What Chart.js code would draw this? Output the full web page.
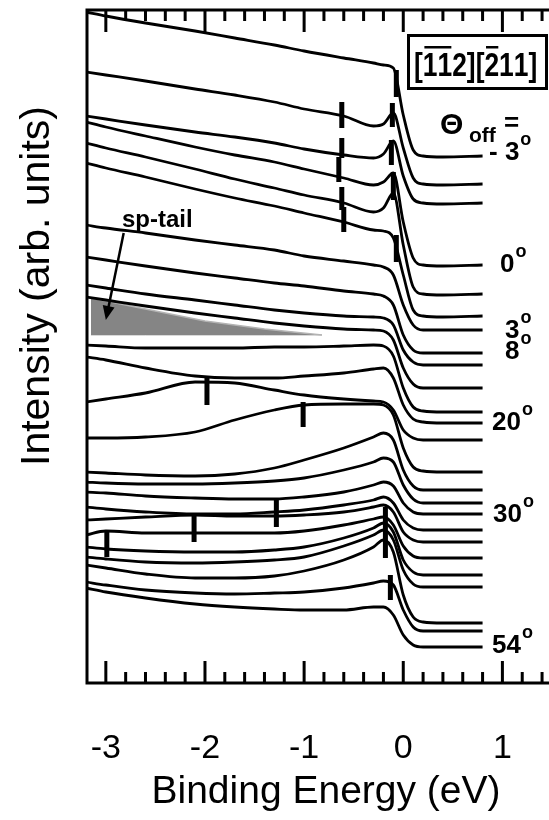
<!DOCTYPE html>
<html>
<head>
<meta charset="utf-8">
<script src="https://cdn.jsdelivr.net/npm/chart.js@4.4.1/dist/chart.umd.min.js"></script>
<style>
  html, body { margin: 0; padding: 0; background: #fff; }
  #chart { display: block; }
</style>
</head>
<body>
<canvas id="chart" width="549" height="820"></canvas>
<script>
'use strict';

// binding energy grid (eV), shared by every spectrum
const energy = [-3.2, -3.0, -2.6, -2.1, -1.7, -1.3, -1.0, -0.6, -0.3, -0.2, -0.1, 0.0, 0.1, 0.2, 0.4, 0.8];

// stacked spectra, top to bottom (intensity incl. offset, arb. units)
const spec01 = [671, 667, 660, 652, 645, 638, 632, 625, 620, 618, 615, 568, 533, 527, 526, 527]; // -3 deg
const spec02 = [611, 608, 602, 594, 588, 581, 574, 567, 557, 559, 570, 535, 505, 499, 498, 499];
const spec03 = [567, 564, 558, 551, 546, 540, 534, 528, 525, 529, 542, 507, 484, 480, 479, 480];
const spec04 = [561, 556, 547, 536, 528, 521, 514, 505, 498, 501, 510, 461, 425, 418, 417, 418]; // 0 deg
const spec05 = [540, 535, 526, 514, 504, 495, 488, 480, 471, 475, 490, 438, 396, 389, 388, 389];
const spec06 = [520, 515, 506, 494, 485, 477, 470, 461, 453, 452, 445, 408, 373, 367, 366, 367];
const spec07 = [458, 455, 450, 443, 438, 433, 427, 422, 418, 416, 408, 378, 358, 353, 353, 353]; // 3 deg
const spec08 = [426, 423, 417, 410, 405, 400, 397, 392, 389, 387, 378, 348, 333, 330, 330, 330];
const spec09 = [398, 395, 389, 383, 378, 373, 370, 367, 366, 365, 358, 333, 321, 318, 318, 318]; // 8 deg
const spec10 = [386, 383, 377, 370, 365, 360, 357, 354, 353, 352, 343, 315, 299, 295, 295, 295];
const spec11 = [338, 337, 335, 335, 335, 336, 336, 337, 338, 337, 327, 295, 276, 272, 271, 271];
const spec12 = [326, 323, 315, 307, 305, 305, 307, 310, 314, 315, 305, 278, 264, 261, 260, 260]; // 20 deg
const spec13 = [281, 284, 290, 301, 300, 293, 288, 284, 282, 281, 273, 253, 245, 243, 243, 243];
const spec14 = [245, 245, 246, 251, 263, 273, 278, 279, 279, 278, 268, 235, 216, 212, 211, 211];
const spec15 = [211, 210, 208, 207, 209, 215, 223, 235, 246, 250, 243, 213, 197, 193, 193, 193];
const spec16 = [201, 200, 199, 199, 200, 202, 205, 213, 221, 225, 221, 198, 184, 180, 180, 180];
const spec17 = [191, 190, 187, 185, 184, 184, 186, 191, 198, 201, 197, 180, 171, 169, 169, 169]; // 30 deg
const spec18 = [176, 174, 171, 169, 169, 171, 173, 178, 183, 186, 180, 163, 155, 153, 153, 153];
const spec19 = [163, 164, 166, 168, 167, 167, 168, 171, 176, 178, 171, 151, 143, 141, 141, 141];
const spec20 = [148, 152, 150, 150, 150, 150, 152, 158, 164, 166, 158, 137, 127, 125, 125, 125];
const spec21 = [136, 134, 132, 131, 131, 133, 136, 145, 155, 160, 151, 123, 111, 108, 108, 108];
const spec22 = [126, 124, 121, 120, 121, 123, 126, 137, 148, 153, 143, 113, 99, 96, 96, 96];
const spec23 = [118, 115, 109, 105, 105, 107, 112, 123, 136, 143, 131, 88, 66, 61, 60, 60];
const spec24 = [101, 98, 93, 90, 89, 90, 91, 95, 100, 102, 98, 73, 56, 52, 52, 52];
const spec25 = [95, 91, 85, 79, 76, 74, 73, 73, 76, 76, 68, 48, 38, 36, 36, 36]; // 54 deg

const spectra = [spec01, spec02, spec03, spec04, spec05, spec06, spec07, spec08, spec09, spec10,
  spec11, spec12, spec13, spec14, spec15, spec16, spec17, spec18, spec19, spec20,
  spec21, spec22, spec23, spec24, spec25];

// peak position markers (short thick bars)
const markEnergy = [-0.62, -0.62, -0.65, -0.62, -0.60, -0.07, -0.11, -0.12, -0.10, -0.07,
  -1.98, -1.01, -1.28, -2.11, -2.99, -0.18, -0.13];
const markTop = [581, 545, 526, 496, 476, 613, 580, 543, 511, 448, 305, 281, 183, 168, 153, 176, 108];
const markBottom = [555, 525, 501, 473, 451, 586, 556, 518, 483, 421, 278, 256, 156, 141, 126, 125, 83];

// shaded sp-tail region
const tailEnergy = [-3.15, -2.6, -2.0, -1.4, -0.82];
const tailTop = [385, 374, 362, 354, 348];
const tailBase = [348, 348, 348, 348, 348];

// x axis
const xTickValues = [-3, -2, -1, 0, 1];
const xMin = -3.19;
const xMax = 1.47;

const FONT = '"Liberation Sans", Arial, Helvetica, sans-serif';

function degLabel(ctx, txt, x, y) {
  ctx.font = 'bold 26px ' + FONT;
  ctx.textAlign = 'left';
  ctx.fillText(txt, x, y);
  const w = ctx.measureText(txt).width;
  ctx.font = 'bold 18px ' + FONT;
  ctx.fillText('o', x + w + 1, y - 15);
}

const frame = {
  id: 'frame',
  afterDraw(chart) {
    const { ctx, chartArea: a, scales: { x, y } } = chart;
    ctx.save();
    ctx.strokeStyle = '#000';
    ctx.fillStyle = '#000';
    ctx.lineWidth = 3;
    ctx.beginPath();
    ctx.moveTo(a.left, a.top - 1.5); ctx.lineTo(a.left, a.bottom + 1.5);
    ctx.moveTo(a.left, a.bottom); ctx.lineTo(a.right, a.bottom);
    ctx.moveTo(a.left, a.top); ctx.lineTo(a.right, a.top);
    ctx.stroke();

    // inward ticks, major every 1 eV, minor every 0.2 eV
    for (let i = -16; i <= 7; i++) {
      const px = x.getPixelForValue(i / 5);
      if (px <= a.left + 3 || px > a.right) continue;
      const len = (i % 5 === 0) ? 22 : 11;
      ctx.beginPath();
      ctx.moveTo(px, a.bottom); ctx.lineTo(px, a.bottom - len);
      ctx.moveTo(px, a.top); ctx.lineTo(px, a.top + len);
      ctx.stroke();
    }

    // tick labels
    ctx.font = '34px ' + FONT;
    ctx.textAlign = 'center';
    ctx.textBaseline = 'alphabetic';
    xTickValues.forEach(v => ctx.fillText(String(v), x.getPixelForValue(v), 758));

    // axis titles
    ctx.font = '39px ' + FONT;
    ctx.fillText('Binding Energy (eV)', 326, 803);
    ctx.save();
    ctx.translate(49, 286);
    ctx.rotate(-Math.PI / 2);
    ctx.font = '41px ' + FONT;
    ctx.fillText('Intensity (arb. units)', 0, 0);
    ctx.restore();

    // direction box, condensed bold text with overbars
    ctx.lineWidth = 3;
    ctx.strokeRect(408.5, 35.5, 138, 53);
    ctx.save();
    ctx.translate(414, 76);
    ctx.scale(0.8, 1);
    ctx.font = 'bold 33px ' + FONT;
    ctx.textAlign = 'left';
    const chars = ['[', '1', '1', '2', ']', '[', '2', '1', '1', ']'];
    const pos = [];
    let cx = 0;
    chars.forEach(c => {
      pos.push(cx);
      ctx.fillText(c, cx, 0);
      cx += ctx.measureText(c).width;
    });
    const w1 = ctx.measureText('1').width;
    ctx.fillRect(pos[1] + 2, -30, pos[3] - pos[1] - 3, 2.5);
    ctx.fillRect(pos[6] + 2, -30, w1 - 3, 2.5);
    ctx.restore();

    // Theta_off =
    ctx.textAlign = 'left';
    ctx.font = 'bold 30px ' + FONT;
    ctx.fillText('\u0398', 440, 134);
    ctx.font = 'bold 21px ' + FONT;
    ctx.fillText('off', 469, 142);
    ctx.font = 'bold 26px ' + FONT;
    ctx.fillText('=', 504, 131);

    degLabel(ctx, '- 3', 489, 160);
    degLabel(ctx, '0', 500, 272);
    degLabel(ctx, '3', 505, 338);
    degLabel(ctx, '8', 505, 359);
    degLabel(ctx, '20', 492, 430);
    degLabel(ctx, '30', 493, 522);
    degLabel(ctx, '54', 492, 653);

    // sp-tail label and arrow
    ctx.font = 'bold 24px ' + FONT;
    ctx.fillText('sp-tail', 122, 227);
    const x0 = x.getPixelForValue(-2.82), y0 = y.getPixelForValue(450);
    const x1 = x.getPixelForValue(-3.0), y1 = y.getPixelForValue(363);
    const ang = Math.atan2(y1 - y0, x1 - x0);
    ctx.lineWidth = 2.5;
    ctx.beginPath();
    ctx.moveTo(x0, y0);
    ctx.lineTo(x1 - 10 * Math.cos(ang), y1 - 10 * Math.sin(ang));
    ctx.stroke();
    ctx.beginPath();
    ctx.moveTo(x1, y1);
    ctx.lineTo(x1 - 14 * Math.cos(ang) + 6 * Math.sin(ang), y1 - 14 * Math.sin(ang) - 6 * Math.cos(ang));
    ctx.lineTo(x1 - 14 * Math.cos(ang) - 6 * Math.sin(ang), y1 - 14 * Math.sin(ang) + 6 * Math.cos(ang));
    ctx.closePath();
    ctx.fill();
    ctx.restore();
  }
};

const datasets = [];
datasets.push({
  data: tailEnergy.map((e, i) => ({ x: e, y: tailTop[i] })),
  borderColor: '#b4b4b4', borderWidth: 1.5, backgroundColor: '#858585',
  fill: '+1', pointRadius: 0, order: 5
});
datasets.push({
  data: tailEnergy.map((e, i) => ({ x: e, y: tailBase[i] })),
  borderColor: '#b4b4b4', borderWidth: 1, fill: false, pointRadius: 0, order: 5
});
spectra.forEach(s => {
  datasets.push({
    data: energy.map((e, i) => ({ x: e, y: s[i] })),
    borderColor: '#000', borderWidth: 2.8, pointRadius: 0,
    cubicInterpolationMode: 'monotone', fill: false, order: 1
  });
});
markEnergy.forEach((e, i) => {
  datasets.push({
    data: [{ x: e, y: markTop[i] }, { x: e, y: markBottom[i] }],
    borderColor: '#000', borderWidth: 5, pointRadius: 0, fill: false, order: 0
  });
});

new Chart(document.getElementById('chart'), {
  type: 'line',
  data: { datasets },
  options: {
    responsive: false,
    animation: false,
    events: [],
    layout: { padding: { left: 87, right: 0, top: 10, bottom: 137 } },
    plugins: { legend: { display: false }, tooltip: { enabled: false } },
    scales: {
      x: { type: 'linear', min: xMin, max: xMax, display: false },
      y: { min: 0, max: 673, display: false }
    }
  },
  plugins: [frame]
});
</script>
</body>
</html>
